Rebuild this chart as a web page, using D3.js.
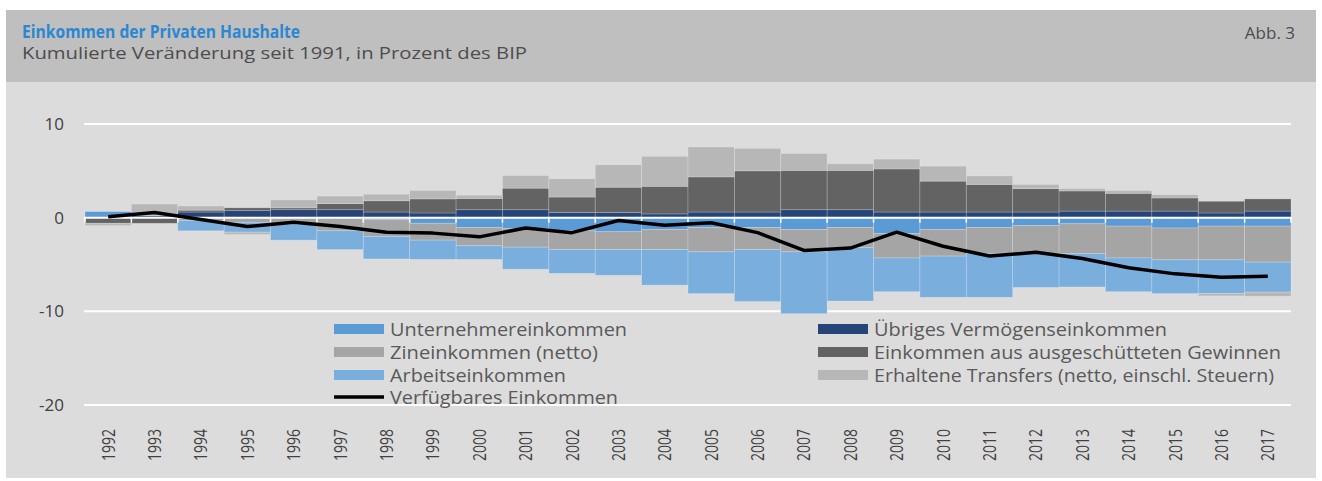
<!DOCTYPE html>
<html>
<head>
<meta charset="utf-8">
<script src="https://cdn.jsdelivr.net/npm/d3@7/dist/d3.min.js"></script>
<style>
  body { margin: 0; background: #ffffff; }
  svg { display: block; font-family: "Open Sans", "Liberation Sans", sans-serif; }
</style>
</head>
<body>
<script>
(function() {

  // Years on the x axis
  var years = ["1992", "1993", "1994", "1995", "1996", "1997", "1998", "1999", "2000",
               "2001", "2002", "2003", "2004", "2005", "2006", "2007", "2008", "2009",
               "2010", "2011", "2012", "2013", "2014", "2015", "2016", "2017"];

  // Series values (cumulated change since 1991, % of GDP)
  var unternehmer = [0.65, 0, 0, 0, 0, 0, -0.2, -0.6, -1.05, -1.15, -1.4, -1.5, -1.25,
                     -1.05, -1.05, -1.25, -1.05, -1.7, -1.25, -1.05, -0.85, -0.65, -0.9, -1.1, -0.9, -0.9];
  var uebriges = [0, 0.2, 0.6, 0.75, 0.85, 0.85, 0.6, 0.5, 0.85, 0.85, 0.55, 0.55, 0.4,
                  0.6, 0.6, 0.85, 0.85, 0.6, 0.6, 0.6, 0.6, 0.7, 0.7, 0.7, 0.5, 0.7];
  var zins = [0, 0, -0.3, -0.5, -0.7, -1.4, -1.8, -1.8, -1.95, -2.0, -2.0, -1.9, -2.15,
              -2.6, -2.35, -2.4, -2.15, -2.6, -2.85, -2.75, -2.95, -3.2, -3.4, -3.4, -3.6, -3.85];
  var gewinne = [-0.6, -0.6, 0.2, 0.3, 0.2, 0.65, 1.2, 1.5, 1.2, 2.3, 1.65, 2.7, 2.95,
                 3.75, 4.4, 4.2, 4.2, 4.6, 3.3, 2.95, 2.5, 2.15, 1.9, 1.4, 1.25, 1.3];
  var arbeit = [0, 0, -1.1, -1.05, -1.7, -2.0, -2.4, -2.05, -1.45, -2.35, -2.55, -2.75, -3.8,
                -4.45, -5.55, -6.6, -5.7, -3.6, -4.4, -4.7, -3.65, -3.55, -3.6, -3.6, -3.6, -3.2];
  var transfers = [-0.25, 1.25, 0.45, -0.25, 0.85, 0.8, 0.7, 0.9, 0.35, 1.35, 1.95, 2.4, 3.2,
                   3.2, 2.4, 1.8, 0.7, 1.05, 1.6, 0.9, 0.45, 0.25, 0.3, 0.35, -0.25, -0.45];
  var verfuegbar = [0.1, 0.55, -0.2, -0.95, -0.5, -0.95, -1.55, -1.65, -2.05, -1.1, -1.6, -0.3, -0.8,
                    -0.55, -1.6, -3.5, -3.25, -1.55, -3.05, -4.1, -3.7, -4.35, -5.35, -6.0, -6.35, -6.25];

  // Y axis ticks
  var yTicks = [10, 0, -10, -20];

  // Series names and colours (same order as the legend)
  var keys = ["u", "v", "z", "g", "a", "t"];
  var seriesNames = ["Unternehmereinkommen", "Übriges Vermögenseinkommen", "Zineinkommen (netto)",
                     "Einkommen aus ausgeschütteten Gewinnen", "Arbeitseinkommen",
                     "Erhaltene Transfers (netto, einschl. Steuern)"];
  var seriesColors = ["#5b9bd5", "#264478", "#a5a5a5", "#636363", "#7aaedd", "#b7b7b7"];
  var lineName = "Verfügbares Einkommen";

  window.onload = setChart();

  function setChart() {
    var width = 1322,
        height = 481;

    var svg = d3.select("body")
        .append("svg")
        .attr("width", width)
        .attr("height", height);

    // Frame: header band and chart body
    svg.append("rect")
        .attr("x", 6).attr("y", 10)
        .attr("width", 1310).attr("height", 72)
        .attr("fill", "#bfbfbf");
    svg.append("rect")
        .attr("x", 6).attr("y", 82)
        .attr("width", 1310).attr("height", 396)
        .attr("fill", "#dcdcdc");

    // Titles
    svg.append("text")
        .attr("x", 22).attr("y", 38)
        .attr("font-size", 18).attr("font-weight", "bold")
        .attr("fill", "#2b87d1")
        .attr("textLength", 278).attr("lengthAdjust", "spacingAndGlyphs")
        .text("Einkommen der Privaten Haushalte");
    svg.append("text")
        .attr("x", 22).attr("y", 59)
        .attr("font-size", 17)
        .attr("fill", "#4d4d4d")
        .attr("textLength", 505).attr("lengthAdjust", "spacingAndGlyphs")
        .text("Kumulierte Veränderung seit 1991, in Prozent des BIP");
    svg.append("text")
        .attr("x", 1295).attr("y", 39)
        .attr("text-anchor", "end")
        .attr("font-size", 17)
        .attr("fill", "#4d4d4d")
        .text("Abb. 3");

    // Scales
    var x = d3.scaleBand()
        .domain(years)
        .range([85, 1291])
        .padding(0);
    var y = d3.scaleLinear()
        .domain([-20, 10])
        .range([405, 124]);

    // Gridlines
    svg.selectAll(".grid")
        .data(yTicks.filter(function(d) { return d !== 0; }))
        .enter()
        .append("line")
        .attr("class", "grid")
        .attr("x1", 84).attr("x2", 1291)
        .attr("y1", function(d) { return y(d); })
        .attr("y2", function(d) { return y(d); })
        .attr("stroke", "#ffffff")
        .attr("stroke-width", 2);

    // Y labels
    svg.selectAll(".ylab")
        .data(yTicks)
        .enter()
        .append("text")
        .attr("class", "ylab")
        .attr("x", 64)
        .attr("y", function(d) { return y(d) + 6; })
        .attr("text-anchor", "end")
        .attr("font-size", 17)
        .attr("fill", "#404040")
        .text(function(d) { return d; });

    // Build rows for the stack
    var rows = years.map(function(yr, i) {
      return {year: yr, u: unternehmer[i], v: uebriges[i], z: zins[i],
              g: gewinne[i], a: arbeit[i], t: transfers[i]};
    });
    var stacked = d3.stack()
        .keys(keys)
        .offset(d3.stackOffsetDiverging)(rows);

    var layers = svg.selectAll(".layer")
        .data(stacked)
        .enter()
        .append("g")
        .attr("class", "layer")
        .attr("fill", function(d, i) { return seriesColors[i]; });

    layers.selectAll("rect")
        .data(function(d) { return d; })
        .enter()
        .append("rect")
        .attr("x", function(d) { return x(d.data.year); })
        .attr("width", x.bandwidth())
        .attr("y", function(d) { return y(Math.max(d[0], d[1])); })
        .attr("height", function(d) { return Math.abs(y(d[0]) - y(d[1])); })
        .attr("stroke", "rgba(255,255,255,0.25)")
        .attr("stroke-width", 0.8);

    // Zero axis with tick marks at band boundaries
    svg.append("line")
        .attr("x1", 84).attr("x2", 1292)
        .attr("y1", y(0)).attr("y2", y(0))
        .attr("stroke", "#ffffff")
        .attr("stroke-width", 2);
    var edges = years.map(function(d) { return x(d); }).concat([x.range()[1]]);
    svg.selectAll(".xtick")
        .data(edges)
        .enter()
        .append("line")
        .attr("class", "xtick")
        .attr("x1", function(d) { return d; })
        .attr("x2", function(d) { return d; })
        .attr("y1", y(0)).attr("y2", y(0) + 5)
        .attr("stroke", "#ffffff")
        .attr("stroke-width", 1.5);

    // Year labels, rotated
    svg.selectAll(".xlab")
        .data(years)
        .enter()
        .append("text")
        .attr("class", "xlab")
        .attr("transform", function(d) {
          return "translate(" + (x(d) + x.bandwidth() / 2 + 6.5) + ",429) rotate(-90)";
        })
        .attr("text-anchor", "end")
        .attr("font-size", 18)
        .attr("fill", "#404040")
        .attr("textLength", 32).attr("lengthAdjust", "spacingAndGlyphs")
        .text(function(d) { return d; });

    // Disposable income line
    var line = d3.line()
        .x(function(d, i) { return x(years[i]) + x.bandwidth() / 2; })
        .y(function(d) { return y(d); });
    svg.append("path")
        .datum(verfuegbar)
        .attr("d", line)
        .attr("fill", "none")
        .attr("stroke", "#000000")
        .attr("stroke-width", 3.5)
        .attr("stroke-linejoin", "round");

    setLegend(svg);
  };

  // Legend in two columns
  function setLegend(svg) {
    var colX = [334, 818],
        rowY = [329, 352, 375, 397],
        textLen = [237, 293, 208, 407, 176, 400];

    seriesNames.forEach(function(name, i) {
      var cx = colX[i % 2],
          cy = rowY[Math.floor(i / 2)];
      svg.append("rect")
          .attr("x", cx).attr("y", cy - 5)
          .attr("width", 50).attr("height", 10)
          .attr("fill", seriesColors[i]);
      svg.append("text")
          .attr("x", cx + 56).attr("y", cy + 7)
          .attr("font-size", 18)
          .attr("fill", "#595959")
          .attr("textLength", textLen[i]).attr("lengthAdjust", "spacingAndGlyphs")
          .text(name);
    });

    svg.append("line")
        .attr("x1", colX[0]).attr("x2", colX[0] + 50)
        .attr("y1", rowY[3]).attr("y2", rowY[3])
        .attr("stroke", "#000000")
        .attr("stroke-width", 3.5);
    svg.append("text")
        .attr("x", colX[0] + 56).attr("y", rowY[3] + 7)
        .attr("font-size", 18)
        .attr("fill", "#595959")
        .attr("textLength", 228).attr("lengthAdjust", "spacingAndGlyphs")
        .text(lineName);
  };

})();
</script>
</body>
</html>
